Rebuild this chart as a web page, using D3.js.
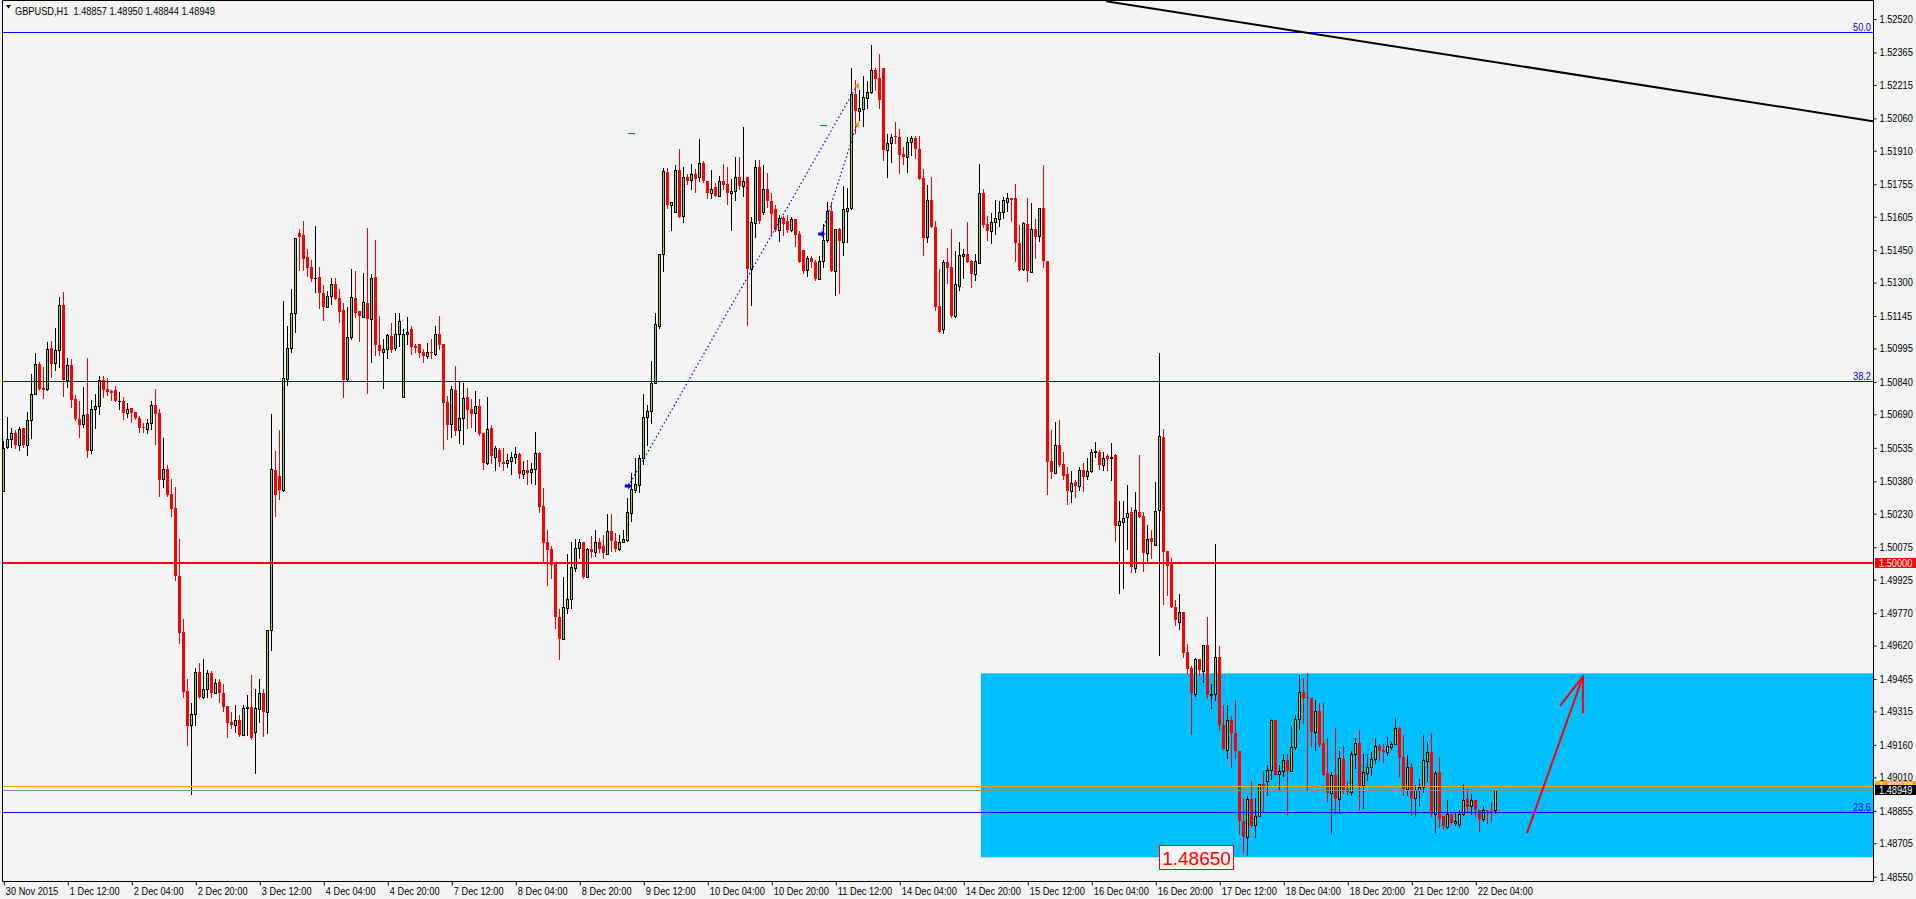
<!DOCTYPE html>
<html><head><meta charset="utf-8">
<script src="https://cdn.jsdelivr.net/npm/d3@7"></script>
<style>
html,body{margin:0;padding:0;background:#F4F4F4;overflow:hidden}
svg text{font-family:"Liberation Sans",Arial,sans-serif;font-size:10.5px}
</style></head><body>
<svg id="c" width="1916" height="899"></svg>
<script>
const headerText = "GBPUSD,H1  1.48857 1.48950 1.48844 1.48949";

const opens = [
1.50335,1.50540,1.50577,1.50605,1.50547,1.50628,1.50550,1.50665,1.50786,1.50925,
1.50810,1.50809,1.50999,1.50929,1.50986,1.51195,1.50847,1.50917,1.50760,1.50667,
1.50644,1.50690,1.50525,1.50713,1.50727,1.50847,1.50806,1.50796,1.50801,1.50750,
1.50750,1.50698,1.50718,1.50701,1.50671,1.50631,1.50624,1.50652,1.50732,1.50696,
1.50392,1.50435,1.50320,1.50255,1.49942,1.49683,1.49408,1.49252,1.49304,1.49497,
1.49382,1.49420,1.49494,1.49402,1.49453,1.49399,1.49338,1.49267,1.49252,1.49277,
1.49206,1.49332,1.49337,1.49221,1.49328,1.49399,1.49312,1.49690,1.50431,1.50407,
1.50340,1.50852,1.50998,1.51160,1.51531,1.51518,1.51420,1.51373,1.51323,1.51327,
1.51253,1.51187,1.51238,1.51295,1.51230,1.51171,1.50852,1.51049,1.51229,1.51168,
1.51142,1.51207,1.51133,1.51325,1.51011,1.50980,1.50991,1.51055,1.50998,1.51060,
1.50770,1.51060,1.51083,1.51006,1.51014,1.50978,1.50960,1.50980,1.50971,1.51060,
1.51014,1.50747,1.50647,1.50801,1.50616,1.50674,1.50770,1.50713,1.50697,1.50731,
1.50602,1.50466,1.50628,1.50494,1.50523,1.50471,1.50463,1.50474,1.50494,1.50508,
1.50415,1.50431,1.50423,1.50438,1.50509,1.50265,1.50099,1.50065,1.49999,1.49754,
1.49648,1.49792,1.49834,1.49979,1.50071,1.50098,1.49936,1.50068,1.50052,1.50098,
1.50081,1.50043,1.50148,1.50105,1.50065,1.50101,1.50110,1.50235,1.50338,1.50363,
1.50490,1.50677,1.50706,1.50837,1.51101,1.51432,1.51812,1.51659,1.51627,1.51822,
1.51606,1.51788,1.51776,1.51801,1.51788,1.51855,1.51768,1.51715,1.51743,1.51702,
1.51771,1.51755,1.51715,1.51723,1.51788,1.51748,1.51788,1.51363,1.51578,1.51837,
1.51627,1.51735,1.51677,1.51640,1.51545,1.51597,1.51586,1.51545,1.51594,1.51523,
1.51449,1.51358,1.51412,1.51396,1.51316,1.51399,1.51498,1.51633,1.51353,1.51546,
1.51490,1.51631,1.51647,1.52171,1.52094,1.52105,1.52156,1.52184,1.52282,1.52245,
1.52295,1.51912,1.51948,1.51980,1.51975,1.51894,1.51883,1.51952,1.51968,1.51920,
1.51786,1.51513,1.51681,1.51559,1.51192,1.51084,1.51395,1.51372,1.51145,1.51284,
1.51423,1.51431,1.51400,1.51338,1.51392,1.51713,1.51570,1.51539,1.51582,1.51596,
1.51628,1.51673,1.51690,1.51690,1.51485,1.51361,1.51570,1.51351,1.51549,1.51516,
1.51647,1.51400,1.50474,1.50418,1.50546,1.50459,1.50412,1.50335,1.50376,1.50360,
1.50432,1.50407,1.50428,1.50515,1.50517,1.50455,1.50496,1.50486,1.50500,1.50180,
1.50191,1.50217,1.50236,1.49978,1.50238,1.50221,1.50050,1.50118,1.50087,1.50246,
1.50587,1.50056,1.49998,1.49798,1.49730,1.49777,1.49591,1.49515,1.49395,1.49556,
1.49502,1.49622,1.49391,1.49395,1.49566,1.49254,1.49137,1.49275,1.49213,1.49130,
1.48810,1.48734,1.48909,1.48789,1.48831,1.48980,1.48992,1.49043,1.49273,1.49026,
1.49039,1.49088,1.49039,1.49151,1.49278,1.49406,1.49381,1.49378,1.49219,1.49316,
1.49170,1.49028,1.48938,1.49023,1.48911,1.49096,1.48954,1.48941,1.49120,1.49170,
1.48974,1.49031,1.49059,1.49093,1.49157,1.49136,1.49128,1.49151,1.49165,1.49239,
1.49103,1.48958,1.49059,1.48912,1.48951,1.48965,1.49085,1.49128,1.48838,1.49036,
1.48830,1.48781,1.48841,1.48800,1.48792,1.48838,1.48910,1.48877,1.48903,1.48861,
1.48818,1.48861,1.48853,1.48857];

const highs = [
1.50567,1.50678,1.50628,1.50616,1.50631,1.50628,1.50701,1.50875,1.50976,1.50932,
1.50909,1.51025,1.51028,1.51091,1.51233,1.51256,1.50949,1.50945,1.50778,1.50750,
1.50817,1.50949,1.50755,1.50783,1.50868,1.50866,1.50857,1.50801,1.50821,1.50792,
1.50770,1.50744,1.50718,1.50701,1.50682,1.50652,1.50667,1.50750,1.50806,1.50713,
1.50579,1.50454,1.50389,1.50352,1.50111,1.49741,1.49463,1.49355,1.49514,1.49537,
1.49556,1.49507,1.49500,1.49466,1.49463,1.49440,1.49338,1.49314,1.49343,1.49297,
1.49343,1.49392,1.49485,1.49417,1.49463,1.49417,1.49690,1.50690,1.50520,1.50617,
1.51217,1.51099,1.51268,1.51508,1.51549,1.51583,1.51457,1.51404,1.51562,1.51373,
1.51287,1.51261,1.51319,1.51319,1.51268,1.51207,1.51187,1.51361,1.51353,1.51168,
1.51346,1.51551,1.51338,1.51495,1.51145,1.51040,1.51060,1.51111,1.51160,1.51160,
1.51086,1.51140,1.51099,1.51017,1.51018,1.50991,1.51022,1.51037,1.51099,1.51145,
1.51014,1.50775,1.50821,1.50913,1.50839,1.50836,1.50810,1.50759,1.50798,1.50759,
1.50602,1.50770,1.50639,1.50543,1.50535,1.50535,1.50505,1.50517,1.50540,1.50512,
1.50474,1.50477,1.50466,1.50608,1.50515,1.50347,1.50154,1.50081,1.49999,1.49787,
1.49939,1.50043,1.50101,1.50115,1.50115,1.50101,1.50073,1.50128,1.50156,1.50118,
1.50131,1.50227,1.50227,1.50140,1.50131,1.50156,1.50305,1.50420,1.50487,1.50503,
1.50784,1.50735,1.50938,1.51159,1.51432,1.51829,1.51829,1.51672,1.51845,1.51917,
1.51837,1.51804,1.51850,1.51825,1.51963,1.51864,1.51768,1.51822,1.51760,1.51793,
1.51850,1.51837,1.51779,1.51883,1.51880,1.52019,1.51788,1.51602,1.51867,1.51867,
1.51842,1.51809,1.51713,1.51660,1.51614,1.51606,1.51611,1.51602,1.51594,1.51541,
1.51449,1.51421,1.51421,1.51404,1.51425,1.51569,1.51675,1.51670,1.51546,1.51554,
1.51747,1.51736,1.52295,1.52236,1.52190,1.52256,1.52233,1.52400,1.52292,1.52357,
1.52295,1.51989,1.51986,1.52045,1.52009,1.51928,1.51975,1.51979,1.51979,1.51979,
1.51827,1.51752,1.51789,1.51585,1.51361,1.51403,1.51459,1.51547,1.51446,1.51488,
1.51454,1.51580,1.51405,1.51431,1.51847,1.51732,1.51608,1.51621,1.51681,1.51678,
1.51696,1.51716,1.51693,1.51755,1.51565,1.51580,1.51690,1.51670,1.51593,1.51647,
1.51843,1.51400,1.50618,1.50655,1.50662,1.50517,1.50445,1.50428,1.50387,1.50445,
1.50463,1.50490,1.50531,1.50562,1.50525,1.50517,1.50507,1.50556,1.50505,1.50288,
1.50288,1.50362,1.50263,1.50329,1.50500,1.50238,1.50176,1.50155,1.50376,1.50976,
1.50624,1.50056,1.50025,1.49829,1.49860,1.49777,1.49626,1.49523,1.49560,1.49556,
1.49622,1.49750,1.49440,1.50091,1.49618,1.49343,1.49343,1.49292,1.49370,1.49130,
1.48915,1.48924,1.48992,1.48915,1.48980,1.49039,1.49069,1.49281,1.49273,1.49069,
1.49119,1.49116,1.49247,1.49298,1.49482,1.49468,1.49491,1.49378,1.49370,1.49352,
1.49352,1.49190,1.49036,1.49236,1.49134,1.49157,1.48992,1.49134,1.49190,1.49227,
1.49116,1.49116,1.49126,1.49190,1.49162,1.49162,1.49196,1.49173,1.49286,1.49244,
1.49208,1.49111,1.49077,1.48974,1.49000,1.49204,1.49173,1.49216,1.49039,1.49105,
1.48830,1.48903,1.48841,1.48850,1.48861,1.48977,1.48954,1.48934,1.48907,1.48861,
1.48877,1.48861,1.48889,1.48950];

const lows = [
1.50335,1.50536,1.50539,1.50534,1.50525,1.50539,1.50502,1.50581,1.50783,1.50801,
1.50767,1.50803,1.50863,1.50897,1.50909,1.50775,1.50817,1.50724,1.50662,1.50585,
1.50631,1.50493,1.50513,1.50627,1.50692,1.50770,1.50778,1.50758,1.50750,1.50716,
1.50670,1.50678,1.50656,1.50670,1.50608,1.50608,1.50602,1.50621,1.50554,1.50312,
1.50354,1.50312,1.50219,1.49923,1.49633,1.49382,1.49159,1.48934,1.49252,1.49379,
1.49376,1.49382,1.49382,1.49399,1.49358,1.49318,1.49198,1.49237,1.49220,1.49201,
1.49204,1.49204,1.49186,1.49030,1.49266,1.49201,1.49216,1.49600,1.50219,1.50296,
1.50335,1.50826,1.50978,1.51071,1.51358,1.51358,1.51330,1.51307,1.51256,1.51182,
1.51126,1.51187,1.51202,1.51222,1.51117,1.50770,1.50844,1.51040,1.51142,1.51029,
1.51142,1.50790,1.50932,1.50964,1.50964,1.50812,1.50949,1.50980,1.50988,1.51006,
1.50770,1.51018,1.50968,1.50978,1.50955,1.50932,1.50949,1.50949,1.50963,1.50991,
1.50528,1.50574,1.50585,1.50594,1.50556,1.50551,1.50628,1.50631,1.50613,1.50594,
1.50435,1.50461,1.50463,1.50432,1.50451,1.50432,1.50446,1.50412,1.50466,1.50397,
1.50394,1.50366,1.50370,1.50369,1.50239,1.50003,1.49900,1.49933,1.49701,1.49556,
1.49648,1.49770,1.49792,1.49966,1.50027,1.49933,1.49936,1.50032,1.50035,1.50052,
1.50027,1.50043,1.50057,1.50057,1.50062,1.50098,1.50106,1.50197,1.50330,1.50330,
1.50462,1.50548,1.50652,1.50837,1.51090,1.51354,1.51647,1.51545,1.51627,1.51602,
1.51581,1.51756,1.51735,1.51718,1.51771,1.51764,1.51690,1.51693,1.51702,1.51702,
1.51735,1.51664,1.51545,1.51680,1.51731,1.51702,1.51103,1.51194,1.51511,1.51578,
1.51619,1.51652,1.51515,1.51540,1.51492,1.51520,1.51536,1.51540,1.51467,1.51396,
1.51346,1.51330,1.51371,1.51310,1.51316,1.51374,1.51490,1.51352,1.51243,1.51250,
1.51428,1.51489,1.51642,1.51994,1.52051,1.52025,1.52107,1.52179,1.52191,1.52107,
1.51867,1.51789,1.51858,1.51945,1.51809,1.51847,1.51812,1.51890,1.51875,1.51781,
1.51428,1.51488,1.51557,1.51173,1.51071,1.51068,1.51300,1.51142,1.51142,1.51266,
1.51320,1.51395,1.51280,1.51312,1.51392,1.51557,1.51497,1.51485,1.51526,1.51562,
1.51597,1.51631,1.51585,1.51400,1.51358,1.51358,1.51307,1.51351,1.51415,1.51492,
1.51372,1.50321,1.50397,1.50418,1.50449,1.50391,1.50277,1.50283,1.50308,1.50341,
1.50335,1.50391,1.50424,1.50494,1.50438,1.50434,1.50432,1.50387,1.50102,1.49864,
1.49887,1.50066,1.49959,1.49959,1.50217,1.49963,1.50004,1.50025,1.50087,1.49577,
1.49812,1.49856,1.49798,1.49715,1.49695,1.49566,1.49492,1.49209,1.49385,1.49484,
1.49453,1.49378,1.49330,1.49370,1.49229,1.49141,1.49101,1.49058,1.49101,1.48754,
1.48660,1.48650,1.48785,1.48734,1.48829,1.48853,1.48927,1.49000,1.49023,1.48951,
1.49015,1.48838,1.49039,1.49139,1.49232,1.49262,1.48951,1.49154,1.49136,1.49154,
1.49019,1.48900,1.48750,1.48846,1.48846,1.48938,1.48931,1.48927,1.49051,1.48864,
1.48869,1.48997,1.49020,1.49074,1.49090,1.49080,1.49111,1.49139,1.49162,1.49015,
1.48927,1.48927,1.48835,1.48830,1.48881,1.48943,1.48995,1.48830,1.48756,1.48781,
1.48773,1.48776,1.48792,1.48789,1.48779,1.48835,1.48853,1.48841,1.48830,1.48761,
1.48807,1.48800,1.48807,1.48844];

const closes = [
1.50536,1.50577,1.50605,1.50547,1.50624,1.50547,1.50665,1.50786,1.50925,1.50806,
1.50803,1.50994,1.50925,1.50986,1.51195,1.50847,1.50917,1.50756,1.50667,1.50641,
1.50685,1.50520,1.50713,1.50727,1.50847,1.50803,1.50793,1.50789,1.50752,1.50750,
1.50698,1.50713,1.50696,1.50673,1.50628,1.50627,1.50652,1.50735,1.50692,1.50386,
1.50435,1.50317,1.50253,1.49942,1.49679,1.49405,1.49247,1.49304,1.49499,1.49382,
1.49420,1.49494,1.49402,1.49448,1.49402,1.49335,1.49263,1.49252,1.49277,1.49206,
1.49332,1.49335,1.49190,1.49332,1.49402,1.49312,1.49690,1.50435,1.50316,1.50340,
1.50860,1.50998,1.51160,1.51508,1.51511,1.51407,1.51366,1.51318,1.51323,1.51253,
1.51187,1.51238,1.51295,1.51225,1.51163,1.50847,1.51049,1.51234,1.51160,1.51145,
1.51211,1.51133,1.51319,1.51011,1.50983,1.50991,1.51057,1.50988,1.51060,1.51120,
1.51060,1.51072,1.51002,1.50997,1.50972,1.50960,1.50980,1.50975,1.51060,1.51011,
1.50744,1.50640,1.50809,1.50613,1.50674,1.50764,1.50710,1.50690,1.50731,1.50597,
1.50466,1.50623,1.50497,1.50535,1.50471,1.50461,1.50478,1.50494,1.50505,1.50415,
1.50431,1.50420,1.50435,1.50512,1.50261,1.50096,1.50062,1.49994,1.49751,1.49648,
1.49800,1.49834,1.49982,1.50073,1.50098,1.49936,1.50068,1.50052,1.50098,1.50068,
1.50048,1.50151,1.50103,1.50065,1.50101,1.50111,1.50239,1.50343,1.50366,1.50487,
1.50677,1.50706,1.50837,1.51106,1.51432,1.51817,1.51657,1.51672,1.51822,1.51602,
1.51788,1.51771,1.51801,1.51781,1.51855,1.51768,1.51715,1.51735,1.51702,1.51771,
1.51751,1.51715,1.51723,1.51788,1.51748,1.51768,1.51363,1.51581,1.51834,1.51583,
1.51735,1.51677,1.51619,1.51545,1.51597,1.51573,1.51545,1.51594,1.51520,1.51396,
1.51354,1.51412,1.51396,1.51316,1.51399,1.51498,1.51633,1.51353,1.51546,1.51492,
1.51639,1.51647,1.52174,1.52094,1.52107,1.52161,1.52184,1.52282,1.52244,1.52144,
1.51914,1.51948,1.51975,1.51975,1.51890,1.51881,1.51952,1.51971,1.51920,1.51781,
1.51508,1.51681,1.51559,1.51187,1.51071,1.51395,1.51366,1.51145,1.51292,1.51426,
1.51431,1.51395,1.51338,1.51400,1.51713,1.51565,1.51539,1.51582,1.51597,1.51628,
1.51681,1.51690,1.51682,1.51482,1.51358,1.51574,1.51354,1.51549,1.51513,1.51644,
1.51400,1.50469,1.50424,1.50546,1.50455,1.50407,1.50335,1.50372,1.50360,1.50432,
1.50401,1.50428,1.50517,1.50521,1.50455,1.50490,1.50484,1.50494,1.50174,1.50197,
1.50211,1.50232,1.49984,1.50246,1.50217,1.50046,1.50114,1.50098,1.50242,1.50589,
1.50052,1.49990,1.49798,1.49736,1.49777,1.49585,1.49513,1.49399,1.49556,1.49509,
1.49622,1.49391,1.49395,1.49566,1.49250,1.49141,1.49275,1.49213,1.49130,1.48806,
1.48734,1.48909,1.48785,1.48831,1.48980,1.48966,1.49046,1.49273,1.49023,1.49039,
1.49088,1.49039,1.49151,1.49278,1.49406,1.49378,1.49378,1.49219,1.49316,1.49159,
1.49019,1.48938,1.49023,1.48911,1.49100,1.48951,1.48941,1.49120,1.49170,1.48966,
1.49036,1.49059,1.49096,1.49157,1.49131,1.49127,1.49157,1.49162,1.49239,1.49098,
1.48958,1.49059,1.48912,1.48949,1.48965,1.49088,1.49128,1.48838,1.49031,1.48818,
1.48784,1.48841,1.48800,1.48810,1.48841,1.48907,1.48872,1.48903,1.48858,1.48818,
1.48861,1.48853,1.48851,1.48949];

const timeLabels = ["30 Nov 2015","1 Dec 12:00","2 Dec 04:00","2 Dec 20:00","3 Dec 12:00","4 Dec 04:00",
  "4 Dec 20:00","7 Dec 12:00","8 Dec 04:00","8 Dec 20:00","9 Dec 12:00","10 Dec 04:00","10 Dec 20:00",
  "11 Dec 12:00","14 Dec 04:00","14 Dec 20:00","15 Dec 12:00","16 Dec 04:00","16 Dec 20:00","17 Dec 12:00",
  "18 Dec 04:00","18 Dec 20:00","21 Dec 12:00","22 Dec 04:00"];
const timeLabelStep = 16;

const priceTicks = ["1.52520","1.52365","1.52215","1.52060","1.51910","1.51755","1.51605","1.51450","1.51300",
  "1.51145","1.50995","1.50840","1.50690","1.50535","1.50380","1.50230","1.50075","1.49925","1.49770","1.49620",
  "1.49465","1.49315","1.49160","1.49010","1.48855","1.48705","1.48550"];

const fibLabels = ["50.0","38.2","23.6"];
const fibPrices = [1.52458,1.50843,1.48848];

const roundLevel = 1.50000;
const alertLevel = 1.48970;
const bidPrice = 1.48949;

const zoneStart = [244.4];
const zonePrices = [1.49491, 1.48640];

const lowLabel = "1.48650";
const lowLabelAnchor = [289.0, 1.48697];

const trendIdx = [275.7, 467.4];
const trendPrices = [1.52602, 1.52047];

const tradeOpenIdx = [156.25, 204.6];
const tradeOpenPrices = [1.50358, 1.51525];
const tradeCloseIdx = [213.35, 213.35];
const tradeClosePrices = [1.52210, 1.52030];
const targetIdx = [157.05, 205.05];
const targetPrices = [1.51992, 1.52028];

const arrowIdx = [380.9, 394.9, 389.2, 394.9];
const arrowPrices = [1.48751, 1.49476, 1.49342, 1.49306];

// ---------- drawing ----------
const W = 1916, H = 899;
const plotL = 2, plotR = 1873, plotT = 0, plotB = 881;
const svg = d3.select("#c");
const n = opens.length;
const x = d3.scaleLinear().domain([0, n - 1]).range([3.3, 3.3 + 4 * (n - 1)]);
const y = d3.scaleLinear().domain([1.48550, 1.52520]).range([876.7, 19]);

const BULL = "#93D81E", BEAR = "#FF0000";

svg.append("rect").attr("x",0).attr("y",0).attr("width",W).attr("height",H).attr("fill","#F4F4F4");
svg.append("defs").append("clipPath").attr("id","clip")
  .append("rect").attr("x",plotL+1).attr("y",plotT+1).attr("width",plotR-plotL-1).attr("height",plotB-plotT-1);
const plot = svg.append("g").attr("clip-path","url(#clip)");

// blue zone
plot.append("rect")
  .attr("x", x(zoneStart[0])).attr("y", y(zonePrices[0]))
  .attr("width", plotR - x(zoneStart[0])).attr("height", y(zonePrices[1]) - y(zonePrices[0]))
  .attr("fill", "#00BFFF");

// candles
const bars = d3.range(n).map(i => ({i, o: opens[i], h: highs[i], l: lows[i], c: closes[i]}));
const cg = plot.append("g");
bars.forEach(b => {
  const cx = Math.round(x(b.i));
  const bull = b.c >= b.o;
  const col = bull ? "#000" : BEAR;
  cg.append("line").attr("x1", cx + 0.5).attr("x2", cx + 0.5)
    .attr("y1", Math.round(y(b.h))).attr("y2", Math.round(y(b.l)) + 1)
    .attr("stroke", col).attr("stroke-width", 1);
  const top = Math.round(y(Math.max(b.o, b.c)));
  const bot = Math.round(y(Math.min(b.o, b.c)));
  if (bull) {
    if (bot - top >= 2) {
      cg.append("rect").attr("x", cx - 0.5).attr("y", top + 0.5).attr("width", 2).attr("height", bot - top)
        .attr("fill", BULL).attr("stroke", "#000").attr("stroke-width", 1);
    } else {
      cg.append("rect").attr("x", cx - 1).attr("y", top).attr("width", 3).attr("height", Math.max(bot - top, 0) + 1)
        .attr("fill", "#000");
    }
  } else {
    cg.append("rect").attr("x", cx - 1).attr("y", top).attr("width", 3).attr("height", Math.max(bot - top, 1))
      .attr("fill", BEAR);
  }
});

// horizontal levels
fibPrices.forEach(p => {
  const yy = Math.round(y(p)) + 0.5;
  plot.append("line").attr("x1", plotL).attr("x2", plotR).attr("y1", yy).attr("y2", yy)
    .attr("stroke", "#0000FF").attr("stroke-width", 1);
});
{
  const yy = Math.round(y(roundLevel));
  plot.append("line").attr("x1", plotL).attr("x2", plotR).attr("y1", yy).attr("y2", yy)
    .attr("stroke", "#FF0000").attr("stroke-width", 2);
  const ya = Math.round(y(alertLevel)) + 0.5;
  plot.append("line").attr("x1", plotL).attr("x2", plotR).attr("y1", ya).attr("y2", ya)
    .attr("stroke", "#FFA500").attr("stroke-width", 1);
  const yb = Math.round(y(bidPrice)) + 0.5;
  plot.append("line").attr("x1", plotL).attr("x2", plotR).attr("y1", yb).attr("y2", yb)
    .attr("stroke", "#8C8C8C").attr("stroke-width", 1);
}
fibLabels.forEach((t, i) => {
  svg.append("text").attr("class","cmp").attr("x", plotR - 2).attr("y", Math.round(y(fibPrices[i])) - 1)
    .attr("text-anchor","end").attr("fill","#0000FF").text(t);
});

// trend line
plot.append("line")
  .attr("x1", x(trendIdx[0])).attr("y1", y(trendPrices[0]))
  .attr("x2", x(trendIdx[1])).attr("y2", y(trendPrices[1]))
  .attr("stroke", "#000").attr("stroke-width", 2);

// trade lines & markers
tradeOpenIdx.forEach((oi, k) => {
  plot.append("line")
    .attr("x1", x(oi)).attr("y1", y(tradeOpenPrices[k]))
    .attr("x2", x(tradeCloseIdx[k])).attr("y2", y(tradeClosePrices[k]))
    .attr("stroke", "#0000FF").attr("stroke-width", 1.2).attr("stroke-dasharray", "1.5,2.5");
  plot.append("path")
    .attr("transform", `translate(${x(oi)},${y(tradeOpenPrices[k])})`)
    .attr("d", "M-3.5,-1.5 H0 V-3.5 L3.5,0 L0,3.5 V1.5 H-3.5 Z").attr("fill", "#0000FF");
  plot.append("path")
    .attr("transform", `translate(${x(tradeCloseIdx[k])},${y(tradeClosePrices[k])})`)
    .attr("d", "M-2.5,0 L2.5,-3.5 L2.5,3.5 Z").attr("fill", "#E0A020");
  const ty = Math.round(y(targetPrices[k])) + 0.5;
  plot.append("line").attr("x1", x(targetIdx[k]) - 3.5).attr("x2", x(targetIdx[k]) + 3.5)
    .attr("y1", ty).attr("y2", ty).attr("stroke", "#FF0000").attr("stroke-width", 1);
});

// hand drawn red arrow
plot.append("path")
  .attr("d", `M${x(arrowIdx[0])},${y(arrowPrices[0])} L${x(arrowIdx[1])},${y(arrowPrices[1])}` +
             ` M${x(arrowIdx[2])},${y(arrowPrices[2])} L${x(arrowIdx[1])},${y(arrowPrices[1])}` +
             ` L${x(arrowIdx[3])},${y(arrowPrices[3])}`)
  .attr("fill", "none").attr("stroke", "#FF0000").attr("stroke-width", 2);

// low label
{
  const lx = Math.round(x(lowLabelAnchor[0])) + 0.5, ly = Math.round(y(lowLabelAnchor[1])) + 0.5;
  plot.append("rect").attr("x", lx).attr("y", ly).attr("width", 74).attr("height", 24)
    .attr("fill", "#F4F4F4").attr("stroke", "#FF0000").attr("stroke-width", 1);
  plot.append("text").attr("x", lx + 37).attr("y", ly + 19).attr("text-anchor","middle")
    .attr("fill", "#FF0000").style("font-size", "19px").text(lowLabel);
}

// frame
svg.append("path")
  .attr("d", `M${plotL+0.5},${plotB+0.5} V${plotT+0.5} H${plotR+0.5} V${plotB+0.5} H${plotL+0.5}`)
  .attr("fill","none").attr("stroke","#000").attr("stroke-width",1);

// right axis
const yAxis = d3.axisRight(y)
  .tickValues(priceTicks.map(Number))
  .tickFormat((d, i) => priceTicks[i])
  .tickSize(3).tickPadding(3);
const gy = svg.append("g").attr("transform", `translate(${plotR + 0.5},0)`).call(yAxis);
gy.select(".domain").remove();
gy.attr("font-family", null).attr("font-size", null);
gy.selectAll("text").attr("class","cmp").attr("fill","#000");

// bottom axis
const xAxis = d3.axisBottom(x)
  .tickValues(d3.range(0, n, timeLabelStep))
  .tickFormat((d, i) => timeLabels[i])
  .tickSize(4).tickPadding(2);
const gx = svg.append("g").attr("transform", `translate(0,${plotB + 0.5})`).call(xAxis);
gx.select(".domain").remove();
gx.attr("font-family", null).attr("font-size", null);
gx.selectAll(".tick line").attr("transform","translate(0.5,0)");
gx.selectAll("text").attr("class","cmp").attr("fill","#000").attr("text-anchor","start").attr("x", 2);

// price tags on axis (orange tag partly hidden under the bid tag, as in the terminal)
function tag(price, label, bg, fg) {
  const yy = Math.round(y(price));
  svg.append("rect").attr("x", plotR + 2).attr("y", yy - 5).attr("width", W - plotR - 2).attr("height", 10)
    .attr("fill", bg);
  svg.append("text").attr("class","cmp").attr("x", plotR + 6).attr("y", yy + 4)
    .attr("fill", fg).text(label);
}
tag(roundLevel, roundLevel.toFixed(5), "#FF0000", "#FFFFFF");
tag(alertLevel, alertLevel.toFixed(5), "#FFA500", "#FFFFFF");
tag(bidPrice, bidPrice.toFixed(5), "#000000", "#FFFFFF");

// header
svg.append("path").attr("d", "M6,5 L11,5 L8.5,8.5 Z").attr("fill", "#000");
svg.append("text").attr("class","cmp").attr("x", 15).attr("y", 15).attr("fill","#000")
  .attr("xml:space","preserve").style("white-space","pre").text(headerText);

// condense text like the terminal font
svg.selectAll("text.cmp").each(function () {
  const w = this.getComputedTextLength();
  this.setAttribute("textLength", (w * 0.88).toFixed(1));
  this.setAttribute("lengthAdjust", "spacingAndGlyphs");
});
</script>
</body></html>
